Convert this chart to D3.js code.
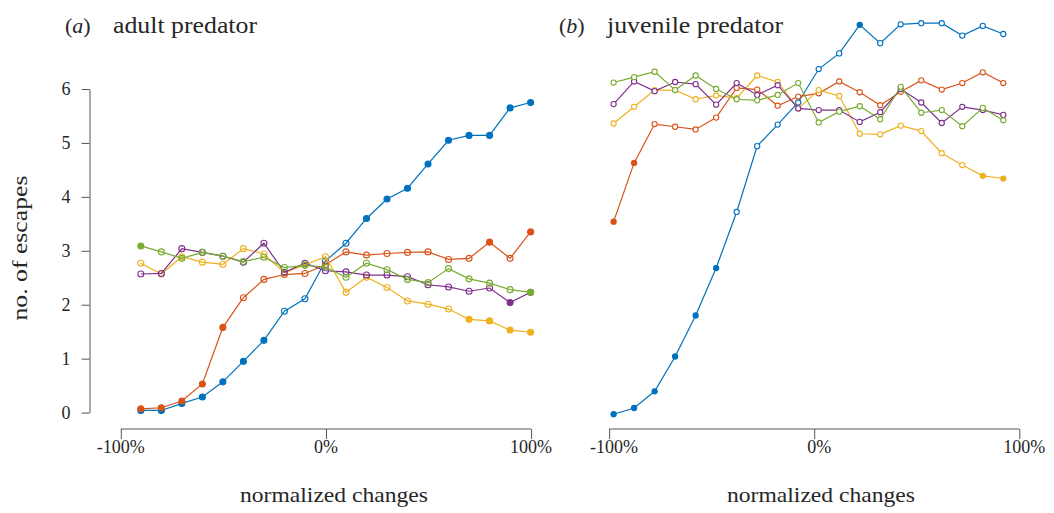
<!DOCTYPE html>
<html><head><meta charset="utf-8">
<script src="https://cdn.jsdelivr.net/npm/d3@7"></script>
<style>body{margin:0;background:#fff}svg{display:block}text{font-family:"Liberation Serif","Times New Roman",Times,serif !important;fill:#262626}</style>
</head><body><svg id="c" width="1054" height="513"></svg>
<script>
const xA = [-90,-80,-70,-60,-50,-40,-30,-20,-10,0,10,20,30,40,50,60,70,80,90,100];
const xB = [-100,-90,-80,-70,-60,-50,-40,-30,-20,-10,0,10,20,30,40,50,60,70,80,90];
const xTicks = [-100,0,100];
const xTickLabels = ["-100%","0%","100%"];
const yTicks = [0,1,2,3,4,5,6];

const blueA   = [0.04,0.04,0.17,0.29,0.57,0.95,1.34,1.88,2.11,2.81,3.14,3.60,3.96,4.16,4.61,5.05,5.14,5.14,5.65,5.75];
const blueAF  = [1,1,1,1,1,1,1,0,0,0,0,1,1,1,1,1,1,1,1,1];
const redA    = [0.07,0.09,0.215,0.53,1.58,2.13,2.47,2.56,2.58,2.74,2.98,2.92,2.95,2.97,2.98,2.84,2.86,3.16,2.86,3.35];
const redAF   = [1,1,1,1,1,0,0,0,0,0,0,0,0,0,0,0,0,1,0,1];
const yellowA = [2.77,2.57,2.89,2.79,2.75,3.04,2.94,2.59,2.74,2.89,2.23,2.51,2.32,2.07,2.01,1.92,1.73,1.70,1.53,1.49];
const yellowAF= [0,0,0,0,0,0,0,0,0,0,0,0,0,0,0,0,1,1,1,1];
const purpleA = [2.57,2.58,3.04,2.97,2.90,2.79,3.14,2.60,2.77,2.63,2.61,2.55,2.55,2.52,2.37,2.33,2.25,2.31,2.04,2.23];
const purpleAF= [0,0,0,0,0,0,0,0,0,0,0,0,0,0,0,0,0,0,1,1];
const greenA  = [3.09,2.98,2.86,2.97,2.90,2.80,2.88,2.69,2.73,2.70,2.51,2.77,2.65,2.47,2.41,2.67,2.48,2.40,2.28,2.23];
const greenAF = [1,0,0,0,0,0,0,0,0,0,0,0,0,0,0,0,0,0,0,1];

const blueB   = [-0.03,0.085,0.395,1.04,1.80,2.68,3.72,4.94,5.34,5.75,6.37,6.66,7.19,6.85,7.20,7.22,7.22,6.99,7.17,7.02];
const blueBF  = [1,1,1,1,1,1,0,0,0,0,0,0,1,0,0,0,0,0,0,0];
const redB    = [3.54,4.63,5.35,5.30,5.25,5.47,6.02,5.99,5.69,5.86,5.92,6.14,5.94,5.70,5.95,6.16,5.99,6.11,6.31,6.11];
const redBF   = [1,1,0,0,0,0,0,0,0,0,0,0,0,0,0,0,0,0,0,0];
const yellowB = [5.36,5.67,5.98,5.98,5.81,5.88,5.83,6.25,6.13,5.64,5.98,5.87,5.17,5.16,5.32,5.22,4.81,4.59,4.39,4.34];
const yellowBF= [0,0,0,0,0,0,0,0,0,0,0,0,0,0,0,0,0,0,1,1];
const purpleB = [5.72,6.14,5.96,6.13,6.09,5.71,6.11,5.89,6.07,5.64,5.61,5.61,5.39,5.57,6.00,5.75,5.37,5.67,5.61,5.52];
const purpleBF= [0,0,0,0,0,0,0,0,0,0,0,0,0,0,0,0,0,0,0,0];
const greenB  = [6.12,6.22,6.32,5.98,6.25,6.00,5.81,5.79,5.89,6.11,5.38,5.58,5.68,5.44,6.04,5.56,5.61,5.31,5.65,5.42];
const greenBF = [0,0,0,0,0,0,0,0,0,0,0,0,0,0,0,0,0,0,0,0];

const colors = {blue:"#0072BD", red:"#D95319", yellow:"#EDB120", purple:"#7E2F8E", green:"#77AC30"};

const svg = d3.select("#c");
const y = d3.scaleLinear().domain([0,6]).range([412.6,89]);
const xa = d3.scaleLinear().domain([-100,100]).range([120.3,530.6]);
const xb = d3.scaleLinear().domain([-100,100]).range([613.6,1023.8]);
const axisY = 429;

function drawSeries(x, xs, vals, filled, col, r, openFill){
  const g = svg.append("g");
  const line = d3.line().x((d,i)=>x(xs[i])).y(d=>y(d));
  g.append("path").attr("d", line(vals)).attr("fill","none").attr("stroke",col).attr("stroke-width",1.2);
  g.selectAll("circle").data(vals).join("circle")
    .attr("cx",(d,i)=>x(xs[i])).attr("cy",d=>y(d)).attr("r",r)
    .attr("fill",(d,i)=>filled[i]?col:openFill)
    .attr("stroke",col).attr("stroke-width",1.1);
}

function drawXAxis(x, shift){
  const g = svg.append("g").attr("transform",`translate(0,${axisY})`)
    .call(d3.axisBottom(x).tickValues(xTicks).tickFormat((d,i)=>xTickLabels[i]).tickSize(10).tickSizeOuter(0).tickPadding(-1));
  g.attr("font-family",null);
  g.select(".domain").attr("stroke","#555").attr("d",`M${x(-100)},0H${x(100)}`).attr("transform",`translate(${shift},0)`);
  g.selectAll(".tick line").attr("stroke","#555").attr("transform",`translate(${shift},0)`);
  g.selectAll(".tick text").attr("font-size",18).attr("dy","0.85em").attr("fill","#262626");
}
drawXAxis(xa, 0.5);
drawXAxis(xb, -4.5);

const gy = svg.append("g").attr("transform","translate(89.5,0)")
  .call(d3.axisLeft(y).tickValues(yTicks).tickFormat(d3.format("d")).tickSize(8).tickSizeOuter(0).tickPadding(11));
gy.attr("font-family",null);
gy.select(".domain").attr("stroke","#555");
gy.selectAll(".tick line").attr("stroke","#555");
gy.selectAll(".tick text").attr("font-size",18).attr("fill","#262626");

const order = ["blue","red","yellow","purple","green"];
const A = {blue:[blueA,blueAF],red:[redA,redAF],yellow:[yellowA,yellowAF],purple:[purpleA,purpleAF],green:[greenA,greenAF]};
const B = {blue:[blueB,blueBF],red:[redB,redBF],yellow:[yellowB,yellowBF],purple:[purpleB,purpleBF],green:[greenB,greenBF]};
order.forEach(k=>drawSeries(xa,xA,A[k][0],A[k][1],colors[k],3,"none"));
order.forEach(k=>drawSeries(xb,xB,B[k][0],B[k][1],colors[k],2.6,"#fff"));

function title(x0, letter, x1, label, len){
  const t = svg.append("text").attr("x",x0).attr("y",33).attr("font-size",22);
  t.append("tspan").text("(");
  t.append("tspan").attr("font-style","italic").text(letter);
  t.append("tspan").text(")");
  svg.append("text").attr("x",x1).attr("y",33).attr("font-size",23).attr("textLength",len).attr("lengthAdjust","spacingAndGlyphs").text(label);
}
title(65,"a",113,"adult predator",144);
title(559,"b",607,"juvenile predator",176);

svg.append("text").attr("x",334).attr("y",502).attr("text-anchor","middle").attr("font-size",21).attr("textLength",188).attr("lengthAdjust","spacingAndGlyphs").text("normalized changes");
svg.append("text").attr("x",821).attr("y",502).attr("text-anchor","middle").attr("font-size",21).attr("textLength",188).attr("lengthAdjust","spacingAndGlyphs").text("normalized changes");
svg.append("text").attr("transform","translate(27,248) rotate(-90)").attr("text-anchor","middle").attr("font-size",21).attr("textLength",145).attr("lengthAdjust","spacingAndGlyphs").text("no. of escapes");
</script></body></html>
